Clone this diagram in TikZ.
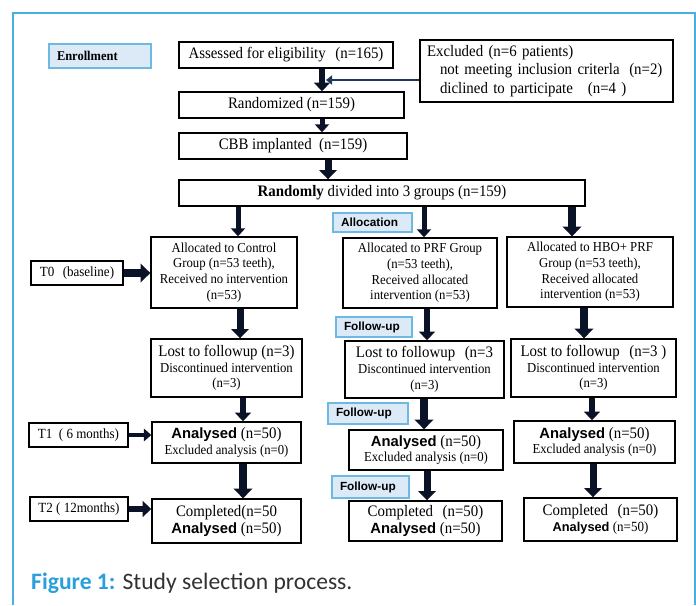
\documentclass[tikz,border=0pt]{standalone}
\usepackage{fontspec}
\setmainfont{Liberation Serif}[FakeStretch=0.93]
\setsansfont{Liberation Sans}
\newfontfamily\capfont{Carlito}
\usepackage{xcolor}
\usetikzlibrary{arrows.meta, positioning, calc}
\definecolor{framec}{RGB}{72,176,224}
\definecolor{tagfill}{RGB}{220,234,248}
\definecolor{tagedge}{RGB}{110,185,225}
\definecolor{arrowc}{RGB}{10,18,40}
\definecolor{linkc}{RGB}{30,55,95}
\definecolor{capblue}{RGB}{41,160,220}
\definecolor{capgray}{RGB}{50,50,50}
\newcommand{\fbig}{\fontsize{16}{17}\selectfont}
\newcommand{\fsmall}{\fontsize{13.7}{15.8}\selectfont}
\newcommand{\fside}{\fontsize{14}{15}\selectfont}
\newcommand{\fwlp}{\hspace{0.6em}(}
\newcommand{\anl}[1][14.8]{{\sffamily\bfseries\fontsize{#1}{17}\selectfont Analysed}}

\begin{document}
\begin{tikzpicture}[x=1pt, y=-1pt,
  box/.style={draw=black, line width=1.4pt, align=center, inner sep=0pt, font=\fsmall},
  tag/.style={draw=tagedge, fill=tagfill, line width=1.2pt, inner xsep=8pt, inner ysep=0pt,
    align=left, font=\sffamily\bfseries\fontsize{11.8}{13}\selectfont},
  fat/.style={line width=#1pt, draw=arrowc, -{Triangle[length=5pt 0.6, width=6pt 1.6]}},
  link/.style={line width=2.5pt, draw=linkc, -{Triangle[length=6pt, width=9pt]}}]
  % page 696x605, one unit = one pixel, y runs down
  \useasboundingbox (0,0) rectangle (696,605);
  \fill[white] (0,0) rectangle (696,605);
  \draw[framec, line width=1.5pt] (13,605) -- (13,13) -- (695,13) -- (695,605);
  % Enrollment part
  \node[tag, text width=86pt, minimum height=24pt, font=\bfseries\fontsize{13.4}{14}\selectfont] (enroll) at (100,56) {Enrollment};
  \node[box, minimum width=214pt, minimum height=26pt, font=\fbig] (assess) at (286,55) {Assessed for eligibility\fwlp n=165)};
  \node[box, minimum width=253pt, minimum height=62pt, text width=239pt, align=left, font=\fontsize{16}{18.5}\selectfont] (excl) at (546.5,71)
    {Excluded (n=6 patients)\\\hspace*{13pt}not meeting inclusion criterla\fwlp n=2)\\\hspace*{13pt}diclined to participate\ \fwlp n=4 )};
  \node[box, minimum width=225pt, minimum height=26pt, font=\fbig] (rand) at (291.5,105) {Randomized (n=159)};
  \node[box, minimum width=228pt, minimum height=26pt, font=\fbig] (cbb) at (293,146) {CBB implanted\ \ (n=159)};
  \node[box, minimum width=406pt, minimum height=26pt, font=\fbig] (divide) at (382,193) {\textbf{Randomly} divided into 3 groups (n=159)};
  % Allocation
  \node[tag, text width=63pt, minimum height=19pt] (allocTag) at (372.5,222.5) {Allocation};
  \node[box, minimum width=146pt, minimum height=71pt] (ctrl) at (224,272.5) {Allocated to Control\\Group (n=53 teeth),\\Received no intervention\\(n=53)};
  \node[box, minimum width=154pt, minimum height=70pt] (prf) at (420,273) {Allocated to PRF Group\\(n=53 teeth),\\Received allocated\\intervention (n=53)};
  \node[box, minimum width=166pt, minimum height=70pt] (hbo) at (590,272) {Allocated to HBO+ PRF\\Group (n=53 teeth),\\Received allocated\\intervention (n=53)};
  % Follow-up
  \node[tag, text width=60pt, minimum height=20pt] (fuA) at (374,327) {Follow-up};
  \node[box, minimum width=151pt, minimum height=58pt] (lost1) at (226.5,368) {{\fbig Lost to followup (n=3)}\\Discontinued intervention\\(n=3)};
  \node[box, minimum width=159pt, minimum height=57pt] (lost2) at (424.5,369.5) {{\fbig Lost to followup\fwlp n=3}\\Discontinued intervention\\(n=3)};
  \node[box, minimum width=165pt, minimum height=58pt] (lost3) at (593.5,368) {{\fbig Lost to followup\fwlp n=3 )}\\Discontinued intervention\\(n=3)};
  \node[tag, text width=64pt, minimum height=21pt] (fuB) at (368,413.5) {Follow-up};
  \node[box, minimum width=149pt, minimum height=41pt] (an1) at (226.5,442.5) {{\fbig\anl{} (n=50)}\\Excluded analysis (n=0)};
  \node[box, minimum width=154pt, minimum height=40pt] (an2) at (426,450) {{\fbig\anl{} (n=50)}\\Excluded analysis (n=0)};
  \node[box, minimum width=161pt, minimum height=42pt] (an3) at (594.5,442) {{\fbig\anl{} (n=50)}\\Excluded analysis (n=0)};
  \node[tag, text width=61pt, minimum height=22pt] (fuC) at (370.5,487) {Follow-up};
  \node[box, minimum width=149pt, minimum height=44pt, font=\fbig] (comp1) at (226.5,521) {Completed(n=50\\\anl{} (n=50)};
  \node[box, minimum width=153pt, minimum height=40pt, font=\fbig] (comp2) at (425.5,521) {Completed\fwlp n=50)\\\anl{} (n=50)};
  \node[box, minimum width=153pt, minimum height=43pt] (comp3) at (600.5,519.5) {{\fbig Completed\fwlp n=50)}\\{\fside\anl[12.8]{} (n=50)}};
  % time points
  \node[box, minimum width=92pt, minimum height=24pt, font=\fside] (t0) at (77,273) {T0\fwlp baseline)};
  \node[box, minimum width=99pt, minimum height=24pt, font=\fside] (t1) at (78.5,435) {T1\ \ ( 6 months)};
  \node[box, minimum width=98pt, minimum height=24pt, font=\fside] (t2) at (79,509) {T2 ( 12months)};
  % arrows
  \coordinate (joinPt) at (326,80);
  \draw[link] (excl.west |- joinPt) -- (joinPt);
  \foreach \a/\b/\x/\w in {assess/rand/322/6, rand/cbb/322/5, cbb/divide/328/7,
      divide/ctrl/238/5, divide/prf/424/5, divide/hbo/572/8,
      ctrl/lost1/240/7, prf/lost2/427/6, hbo/lost3/584/8,
      lost1/an1/243/6, lost2/an2/424/8, lost3/an3/592/6,
      an1/comp1/243/8, an2/comp2/427/7, an3/comp3/593/7}
    \draw[fat=\w] (\a.south -| \x,0) -- (\b.north -| \x,0);
  \draw[fat=8] (t0.east) -- (t0.east -| ctrl.west);
  \draw[fat=4] (t1.east) -- (t1.east -| an1.west);
  \draw[fat=6] (t2.east) -- (t2.east -| comp1.west);
  % caption
  \node[anchor=base west, inner sep=0pt, text=capgray, font=\capfont\fontsize{23.6}{27}\selectfont] (cap) at (31,589)
    {\textcolor{capblue}{\bfseries Figure 1:} Study selection process.};
\end{tikzpicture}
\end{document}
